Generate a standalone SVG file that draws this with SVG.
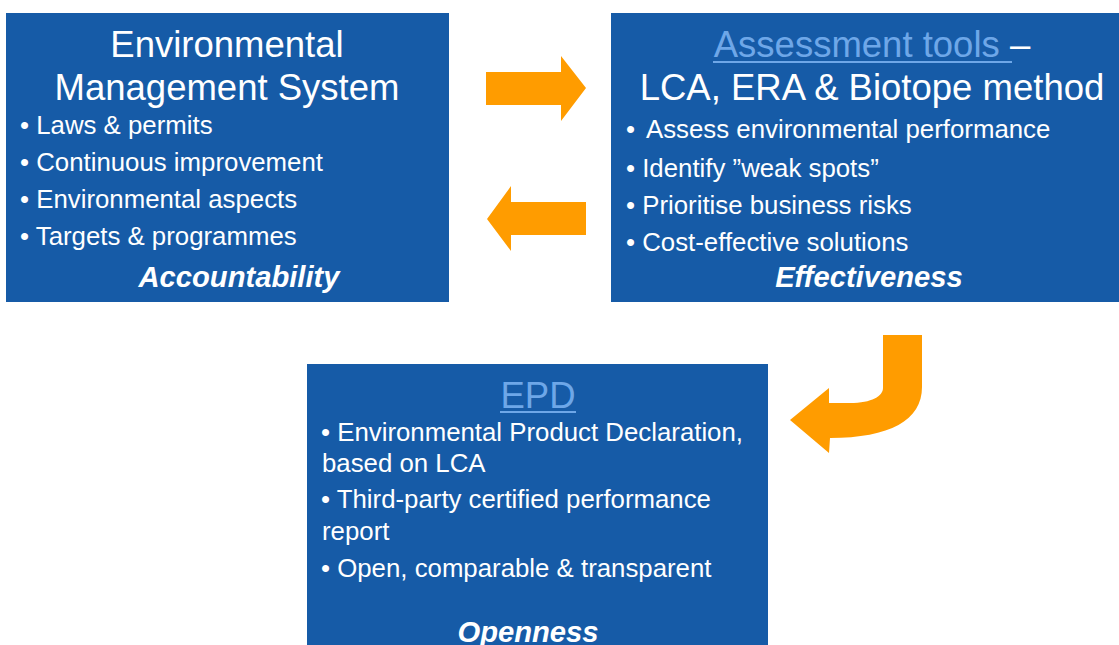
<svg xmlns="http://www.w3.org/2000/svg" width="1119" height="645" viewBox="0 0 1119 645">
<style>
.box{fill:#165BA7}
.t{font-family:"Liberation Sans",Arial,sans-serif;fill:#fff}
.title{font-size:36.5px}
.link{fill:#6EA7E8}
.b{font-size:25.8px}
.k{font-size:29.2px;font-weight:bold;font-style:italic}
.arr{fill:#FF9C00}
</style>
<rect width="1119" height="645" fill="#fff"/>
<g id="ems">
<rect class="box" x="6" y="13" width="443" height="289"/>
<text class="t title" x="227" y="57" text-anchor="middle">Environmental</text>
<text class="t title" x="227" y="100" text-anchor="middle">Management System</text>
<text class="t b" x="20" y="134">• Laws &amp; permits</text>
<text class="t b" x="20" y="171">• Continuous improvement</text>
<text class="t b" x="20" y="208">• Environmental aspects</text>
<text class="t b" x="20" y="245">• Targets &amp; programmes</text>
<text class="t k" x="239" y="287" text-anchor="middle">Accountability</text>
</g>
<g id="assessment">
<rect class="box" x="611" y="13" width="508" height="289"/>
<text class="t title" x="872" y="57" text-anchor="middle"><tspan class="link">Assessment tools </tspan>–</text>
<rect x="713" y="61" width="299" height="2" fill="#6EA7E8"/>
<text class="t title" x="872" y="100" text-anchor="middle">LCA, ERA &amp; Biotope method</text>
<text class="t b" x="626" y="138">•<tspan x="646">Assess environmental performance</tspan></text>
<text class="t b" x="626" y="177">• Identify ”weak spots”</text>
<text class="t b" x="626" y="214">• Prioritise business risks</text>
<text class="t b" x="626" y="251">• Cost-effective solutions</text>
<text class="t k" x="869" y="287" text-anchor="middle">Effectiveness</text>
</g>
<g id="epd">
<rect class="box" x="307" y="364" width="461" height="281"/>
<text class="t title link" x="538" y="408" text-anchor="middle">EPD</text>
<rect x="500" y="411" width="76" height="2" fill="#6EA7E8"/>
<text class="t b" x="321" y="441">• Environmental Product Declaration,</text>
<text class="t b" x="322" y="472">based on LCA</text>
<text class="t b" x="321" y="508">• Third-party certified performance</text>
<text class="t b" x="322" y="540">report</text>
<text class="t b" x="321" y="577">• Open, comparable &amp; transparent</text>
<text class="t k" x="528" y="642" text-anchor="middle">Openness</text>
</g>
<g id="connectors">
<path class="arr" d="M486,72 L561,72 L561,56 L586,88 L561,121 L561,105 L486,105 Z"/>
<path class="arr" d="M586,202 L511,202 L511,186 L487,219 L511,251 L511,235 L586,235 Z"/>
<path class="arr" d="M883,335 L922,335 L922,387 C922,420 890,438 830,438 L829,453 L790,420 L829,388 L829,403 L850,403 C872,403 883,396 883,388 Z"/>
</g>
</svg>
